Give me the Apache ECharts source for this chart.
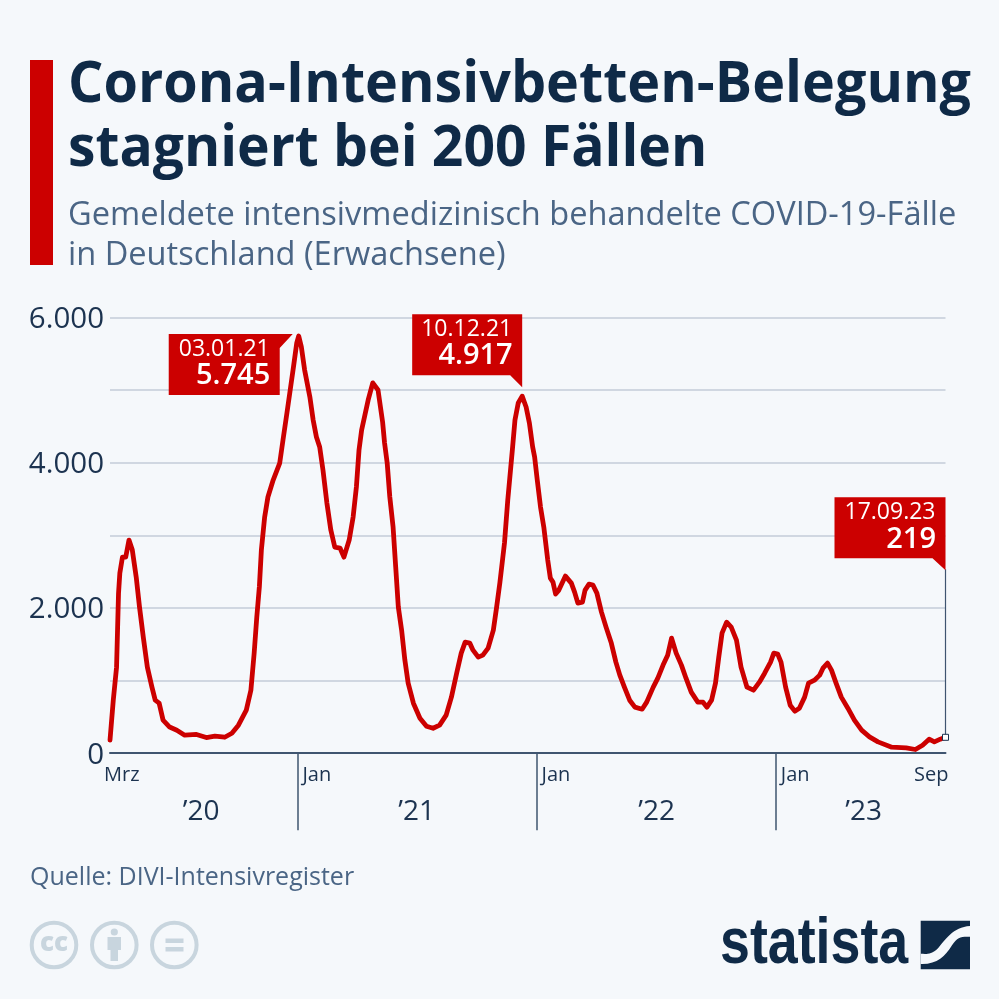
<!DOCTYPE html>
<html><head><meta charset="utf-8">
<style>html,body{margin:0;padding:0;background:#f5f8fb}#c{width:999px;height:999px}</style>
<script src="https://cdn.jsdelivr.net/npm/echarts@6/dist/echarts.min.js"></script>
</head><body><div id="c"></div>
<script>
// Days since 20 Mar 2020
const days = [0,5,10,13,15,19,24,29,34,40,45,51,57,64,69,75,81,91,102,114,132,147,160,175,186,196,208,215,220,224,228,231,236,241,249,259,264,270,275,280,285,288,292,297,305,310,315,320,325,331,337,343,351,357,365,371,376,380,384,389,394,401,409,416,419,423,427,432,436,440,445,450,455,463,473,483,493,503,513,521,529,536,542,549,554,562,569,577,585,590,595,602,607,614,618,623,629,635,640,645,648,652,657,662,668,672,676,680,685,695,704,709,714,721,725,731,737,743,750,757,765,772,778,785,793,801,812,819,829,836,844,851,857,864,872,879,887,897,905,911,918,924,929,934,941,948,956,963,972,982,991,999,1008,1013,1019,1024,1031,1038,1045,1052,1060,1066,1075,1083,1088,1095,1101,1108,1116,1126,1136,1147,1159,1172,1193,1215,1229,1240,1250,1258,1267,1275];
const cases = [180,730,1185,2200,2480,2700,2700,2935,2800,2425,2015,1585,1185,910,730,690,455,360,317,248,258,216,234,220,275,386,593,868,1378,1874,2300,2797,3252,3528,3762,3996,4313,4685,5002,5319,5650,5745,5595,5278,4906,4589,4355,4217,3900,3445,3073,2839,2825,2700,2935,3252,3666,4175,4451,4658,4864,5099,5002,4561,4272,3996,3528,3114,2563,2012,1695,1281,965,689,482,372,344,386,524,772,1102,1378,1530,1516,1419,1323,1350,1447,1695,2012,2350,2894,3486,4175,4589,4823,4917,4768,4547,4217,4079,3762,3390,3114,2660,2411,2356,2191,2246,2439,2342,2218,2067,2081,2246,2329,2315,2205,1943,1736,1516,1254,1075,910,730,634,606,703,910,1033,1213,1350,1585,1378,1213,1033,841,703,703,634,730,965,1323,1654,1805,1736,1557,1185,910,868,978,1102,1254,1378,1364,1254,910,661,579,620,772,965,1006,1075,1171,1240,1144,965,772,620,455,317,225,156,83,73,51,110,193,156,193,219];
const yearTicks = [286,651,1016];
const monthDays = [0,286,651,1016,1275];
const monthLabels = ['Mrz','Jan','Jan','Jan','Sep'];
const yearDays = [139,468,834,1150];
const yearLabels = ['’20','’21','’22','’23'];
const yValues = [0,2000,4000,6000];
const yLabels = ['0','2.000','4.000','6.000'];
const peakDays = [288,629,1275];
const peakValues = [5745,4917,219];
const peakDates = ['03.01.21','10.12.21','17.09.23'];
const peakTexts = ['5.745','4.917','219'];

const BG='#f5f8fb', NAVY='#0f2a47', SLATE='#4a6585', RED='#cc0000', ICON='#c8d5de', FONT='"Open Sans"';
const t=(text,x,y,font,fill,align)=>({type:'text',silent:true,style:{text,x,y,font,fill,textAlign:align||'left',textVerticalAlign:'middle'}});
const st=(text,x,y,sx)=>({type:'text',silent:true,x,y,scaleX:sx,style:{text,x:0,y:0,font:'700 58px '+FONT,fill:NAVY,textAlign:'left',textVerticalAlign:'middle'}});
const circle=(cx)=>({type:'circle',silent:true,shape:{cx,cy:945,r:22.3},style:{fill:'none',stroke:ICON,lineWidth:4}});
const rect=(x,y,width,height,fill)=>({type:'rect',silent:true,shape:{x,y,width,height},style:{fill}});

const graphic=[
 rect(30,60,23,205,RED),
 st('Corona-Intensivbetten-Belegung',68,85,0.96),
 st('stagniert bei 200 Fällen',68,149.5,0.952),
 t('Gemeldete intensivmedizinisch behandelte COVID-19-Fälle',68,216,'400 32.6px '+FONT,SLATE),
 t('in Deutschland (Erwachsene)',68,256,'400 32.6px '+FONT,SLATE),
 t('Quelle: DIVI-Intensivregister',30,878,'400 25px '+FONT,SLATE),
 circle(54),circle(114.3),circle(174.3),
 t('cc',54,944,'800 26px '+FONT,ICON,'center'),
 {type:'circle',silent:true,shape:{cx:114.3,cy:932,r:3.6},style:{fill:ICON}},
 rect(107.5,937,13.5,13,ICON),rect(110.5,950,7.5,11,ICON),
 rect(165.5,938.5,18,4.5,ICON),rect(165.5,947,18,4.5,ICON),
 {type:'text',silent:true,x:720,y:945,scaleX:0.84,style:{text:'statista',x:0,y:0,font:'700 64px "Liberation Sans"',fill:NAVY,textAlign:'left',textVerticalAlign:'middle'}},
 rect(920.7,920.7,49.3,48.6,NAVY)
];

function textEl(text,x,y,font,align){
 return {type:'text',style:{text,x,y,font,fill:'#fff',textAlign:align||'right',textVerticalAlign:'middle'}};
}
function calloutItem(params,api){
 const i=params.dataIndex, p=api.coord([api.value(0),api.value(1)]), x=p[0], y=p[1];
 let pts, r, top;
 const children=[];
 if(i===0){ r=x-19; top=y-2;
  pts=[[r-111,top],[r+13,top],[r,top+14],[r,top+61],[r-111,top+61]];
 } else if(i===1){ r=x; top=y-82;
  pts=[[r-110,top],[r,top],[r,top+73],[r-12,top+61],[r-110,top+61]];
 } else { r=x; top=y-240;
  children.push({type:'line',shape:{x1:x,y1:top+72,x2:x,y2:y},style:{stroke:'#3f5570',lineWidth:1.2}});
  children.push({type:'rect',shape:{x:x-3,y:y-3,width:6,height:6},style:{fill:'#fff',stroke:'#1c3350',lineWidth:1}});
  pts=[[r-111,top],[r,top],[r,top+73],[r-13,top+61],[r-111,top+61]];
 }
 children.push({type:'polygon',shape:{points:pts},style:{fill:RED}});
 children.push(textEl(peakDates[i],r-10,top+15,'400 23px '+FONT));
 children.push(textEl(peakTexts[i],r-9.5,top+42,'600 29px '+FONT));
 return {type:'group',children};
}
function monthItem(params,api){
 const i=params.dataIndex, p=api.coord([api.value(0),0]);
 const n=monthLabels[i];
 const first=i===0, last=i===monthLabels.length-1;
 const dx=first?-6:(last?3:5);
 return {type:'text',style:{text:n,x:p[0]+dx,y:p[1]+22,font:'400 20px '+FONT,fill:'#1c3350',textAlign:last?'right':'left',textVerticalAlign:'middle'}};
}
function yearItem(params,api){
 const p=api.coord([api.value(0),0]);
 return {type:'text',style:{text:yearLabels[params.dataIndex],x:p[0],y:p[1]+59,font:'400 28px '+FONT,fill:'#1c3350',textAlign:'center',textVerticalAlign:'middle'}};
}
function yLabelItem(params,api){
 const p=api.coord([0,api.value(1)]);
 return {type:'text',style:{text:yLabels[params.dataIndex],x:p[0]-6,y:p[1]+2,font:'400 29.5px '+FONT,fill:'#1c3350',textAlign:'right',textVerticalAlign:'middle'}};
}
function logoItem(){
 return {type:'path',shape:{pathData:'M970,926 C953,927 945,940 938,948 C931,955 925,953.5 920.7,953.5 L920.7,963.5 C937,964 945,956 952,945 C958,937 960,936.5 970,936.7 Z',x:920.7,y:926,width:49.3,height:38,layout:'cover'},style:{fill:BG}};
}

const chart=echarts.init(document.getElementById('c'),null,{renderer:'canvas'});
chart.setOption({
 animation:false,
 backgroundColor:BG,
 grid:{left:110,right:53.5,top:317.5,bottom:245.8,containLabel:false},
 xAxis:{type:'value',min:0,max:1275,splitLine:{show:false},
  axisLine:{show:true,onZero:false,lineStyle:{color:'#3f5570',width:2}},
  axisTick:{show:true,customValues:yearTicks,length:77,lineStyle:{color:'#3f5570',width:1.5}},
  axisLabel:{show:false}},
 yAxis:{type:'value',min:0,max:6000,interval:1000,
  axisLine:{show:false},axisTick:{show:false},
  splitLine:{lineStyle:{color:'#c3ccd8',width:1.5}},
  axisLabel:{show:false}},
 graphic:{elements:graphic},
 series:[
  {type:'line',data:days.map((d,i)=>[d,cases[i]]),showSymbol:false,symbol:'none',clip:false,smooth:false,z:3,
   lineStyle:{color:RED,width:4.8,join:'round',cap:'round'},silent:true},
  {type:'custom',renderItem:yLabelItem,data:yValues.map(v=>[0,v]),silent:true,z:4,encode:{x:0,y:1}},
  {type:'custom',renderItem:monthItem,data:monthDays.map(d=>[d]),silent:true,z:4,encode:{x:0}},
  {type:'custom',renderItem:yearItem,data:yearDays.map(d=>[d]),silent:true,z:4,encode:{x:0}},
  {type:'custom',renderItem:calloutItem,data:peakDays.map((d,i)=>[d,peakValues[i]]),silent:true,z:5,encode:{x:0,y:1}},
  {type:'custom',renderItem:logoItem,data:[[0]],silent:true,z:6,encode:{x:0}}
 ]
});
</script></body></html>
